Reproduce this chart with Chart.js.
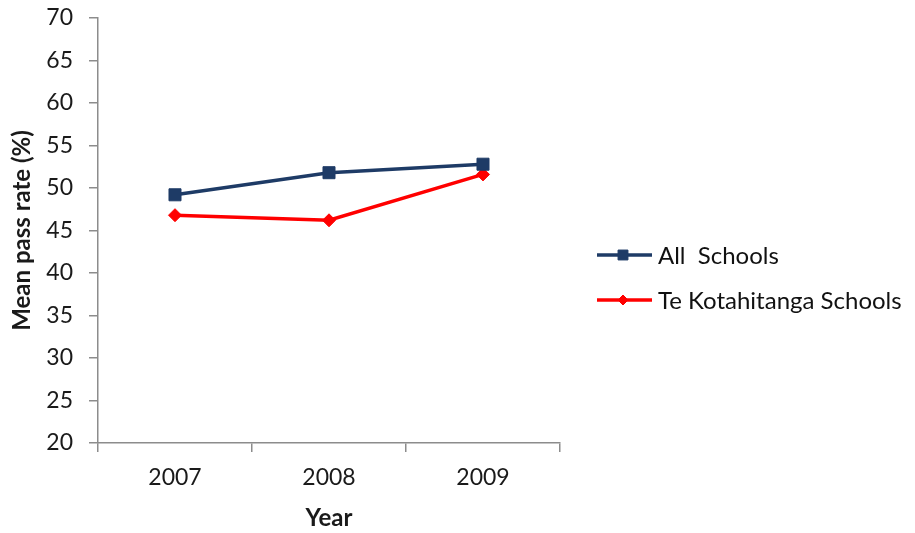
<!DOCTYPE html>
<html>
<head>
<meta charset="utf-8">
<script src="https://cdn.jsdelivr.net/npm/chart.js@4"></script>
<style>
  html, body { margin: 0; padding: 0; background: #fff; }
  #wrap { width: 915px; height: 533px; }
</style>
</head>
<body>
<div id="wrap"><canvas id="passChart" width="915" height="533"></canvas></div>
<script>
// chart data
const years = ['2007', '2008', '2009'];
const allSchools = [49.2, 51.8, 52.8];
const teKotahitanga = [46.8, 46.2, 51.6];
const seriesNames = ['All  Schools', 'Te Kotahitanga Schools'];
const yMin = 20, yMax = 70, yStep = 5;

const FONT = 'Lato, "Open Sans", sans-serif';

// legend on the right: line sample + marker + text
const sideLegend = {
    id: 'sideLegend',
    afterDraw(chart) {
        const ctx = chart.ctx;
        const x0 = 597;
        const rows = [255, 300];
        chart.data.datasets.forEach(function(ds, i) {
            const y = rows[i];
            ctx.save();
            ctx.strokeStyle = ds.borderColor;
            ctx.lineWidth = 3.5;
            ctx.beginPath();
            ctx.moveTo(x0, y);
            ctx.lineTo(x0 + 55, y);
            ctx.stroke();
            ctx.fillStyle = ds.backgroundColor;
            ctx.lineWidth = 1;
            Chart.helpers.drawPoint(ctx, {
                pointStyle: ds.pointStyle,
                radius: ds.pointRadius - 1.5,
                borderWidth: 1
            }, x0 + 26, y);
            ctx.fillStyle = '#111';
            ctx.font = '24px ' + FONT;
            ctx.textBaseline = 'middle';
            ctx.fillText(ds.label, x0 + 61, y + 1);
            ctx.restore();
        });
    }
};

const ctx = document.getElementById('passChart').getContext('2d');
const chart = new Chart(ctx, {
    type: 'line',
    data: {
        labels: years,
        datasets: [{
            label: seriesNames[0],
            data: allSchools,
            borderColor: '#1e3b66',
            backgroundColor: '#1e3b66',
            pointStyle: 'rect',
            pointRadius: 8.5,
            pointBorderWidth: 1,
            borderWidth: 3.5,
            tension: 0
        }, {
            label: seriesNames[1],
            data: teKotahitanga,
            borderColor: '#ff0000',
            backgroundColor: '#ff0000',
            pointStyle: 'rectRot',
            pointRadius: 6.5,
            pointBorderWidth: 1,
            borderWidth: 3.5,
            tension: 0
        }]
    },
    options: {
        responsive: false,
        animation: false,
        devicePixelRatio: 1,
        layout: { padding: { top: 18, right: 355, left: 0, bottom: 0 } },
        plugins: {
            legend: { display: false },
            tooltip: { enabled: false }
        },
        scales: {
            x: {
                offset: true,
                afterFit: function(s) { s.height = 90; s.paddingLeft = 0; s.paddingRight = 0; },
                grid: {
                    offset: true,
                    drawOnChartArea: false,
                    tickLength: 9,
                    color: '#8c8c8c',
                    lineWidth: 1.5
                },
                border: { color: '#8c8c8c', width: 1.5 },
                ticks: {
                    padding: 12,
                    color: '#1a1a1a',
                    font: { family: FONT, size: 23 }
                },
                title: {
                    display: true,
                    text: 'Year',
                    color: '#1a1a1a',
                    padding: { top: 0, bottom: 0 },
                    font: { family: FONT, size: 24, weight: 'bold' }
                }
            },
            y: {
                min: yMin,
                max: yMax,
                afterFit: function(s) { s.width = 98; s.paddingTop = 0; s.paddingBottom = 0; },
                grid: {
                    drawOnChartArea: false,
                    tickLength: 9,
                    color: '#8c8c8c',
                    lineWidth: 1.5
                },
                border: { color: '#8c8c8c', width: 1.5 },
                ticks: {
                    stepSize: yStep,
                    padding: 16,
                    color: '#1a1a1a',
                    font: { family: FONT, size: 23 }
                },
                title: {
                    display: true,
                    text: 'Mean pass rate (%)',
                    color: '#1a1a1a',
                    padding: { top: 8, bottom: 0 },
                    font: { family: FONT, size: 24, weight: 'bold' }
                }
            }
        }
    },
    plugins: [sideLegend]
});
</script>
</body>
</html>
